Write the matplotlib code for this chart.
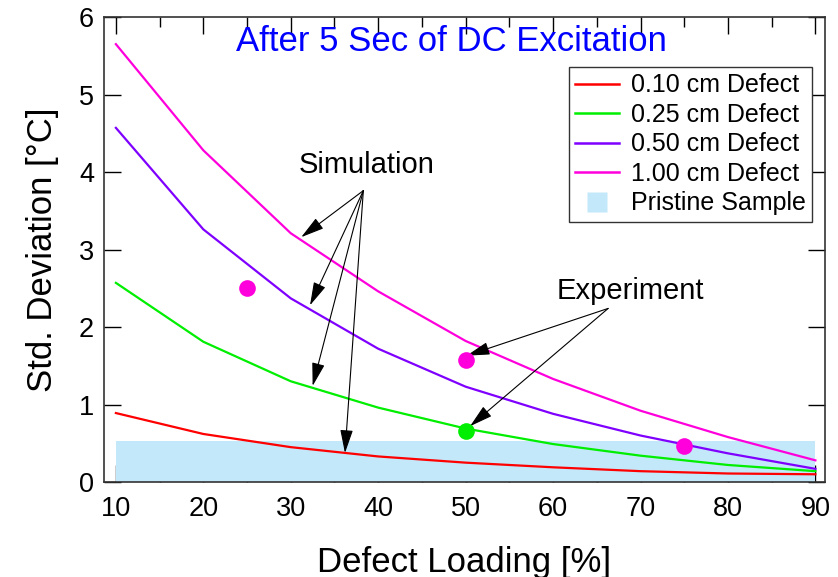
import matplotlib
matplotlib.use("Agg")
import matplotlib.pyplot as plt
from matplotlib.lines import Line2D

plt.rcParams['font.family'] = ['Liberation Sans', 'DejaVu Sans']

loading = [10, 20, 30, 40, 50, 60, 70, 80, 90]
std_010 = [0.89, 0.62, 0.45, 0.33, 0.25, 0.19, 0.14, 0.11, 0.10]
std_025 = [2.57, 1.81, 1.30, 0.96, 0.69, 0.49, 0.34, 0.22, 0.14]
std_050 = [4.57, 3.26, 2.37, 1.72, 1.23, 0.88, 0.60, 0.37, 0.17]
std_100 = [5.65, 4.28, 3.21, 2.46, 1.82, 1.33, 0.92, 0.58, 0.28]
labels = ["0.10 cm Defect", "0.25 cm Defect", "0.50 cm Defect", "1.00 cm Defect"]
colors = ["#ff0000", "#00ee00", "#7f00ff", "#ff00dd"]

pristine_level = 0.53
pristine_x = [10, 90]

exp_x_mag = [25, 50, 75]
exp_y_mag = [2.50, 1.58, 0.47]
exp_x_grn = [50]
exp_y_grn = [0.66]

band_color = "#c2e8fa"

fig = plt.figure(figsize=(8.38, 5.77), dpi=100)
ax = fig.add_axes([0.124, 0.1646, 0.8605, 0.8059])
ax.set_axisbelow(True)

ax.fill_between(pristine_x, 0, pristine_level, color=band_color, lw=0, zorder=1)
for ys, c in zip([std_010, std_025, std_050, std_100], colors):
    ax.plot(loading, ys, color=c, lw=1.6, zorder=3)

ax.plot(exp_x_mag, exp_y_mag, 'o', color="#ff00dd", ms=12, mec='none', zorder=4)
ax.plot(exp_x_grn, exp_y_grn, 'o', color="#00ee00", ms=12, mec='none', zorder=4)

ax.set_xlim(8.63, 91.1)
ax.set_ylim(0, 6)
ax.set_xticks(loading)
ax.set_xticks([15, 25, 35, 45, 55, 65, 75, 85], minor=True)
ax.set_yticks([0, 1, 2, 3, 4, 5, 6])
ax.tick_params(which='both', direction='in', top=True, right=True, labelsize=19.5,
               width=1.0, color='black')
ax.tick_params(which='major', length=12)
ax.tick_params(which='minor', length=7, right=False, left=False)
ax.tick_params(axis='x', pad=10)
ax.tick_params(axis='y', pad=7)
for s in ax.spines.values():
    s.set_color('#333333')
    s.set_linewidth(1.2)

ax.set_xlabel("Defect Loading [%]", fontsize=25, labelpad=17)
ax.set_ylabel("Std. Deviation [°C]", fontsize=25, labelpad=14)

ax.text(48.4, 5.68, "After 5 Sec of DC Excitation", color="#0000ff", fontsize=25,
        ha='center', va='center')

arrow = dict(arrowstyle='-|>,head_length=0.8,head_width=0.22', color='black',
             lw=0.8, mutation_scale=18, shrinkA=0, shrinkB=0)
ax.text(38.7, 4.09, "Simulation", fontsize=21, ha='center', va='center')
for tx, ty in [(31.2, 3.16), (32.2, 2.28), (32.5, 1.24), (36.2, 0.375)]:
    ax.annotate("", xy=(tx, ty), xytext=(38.3, 3.76), arrowprops=arrow)

ax.text(68.8, 2.47, "Experiment", fontsize=21, ha='center', va='center')
for tx, ty in [(50.1, 1.63), (50.5, 0.72)]:
    ax.annotate("", xy=(tx, ty), xytext=(66.3, 2.24), arrowprops=arrow)

handles = [Line2D([], [], color=c, lw=1.8) for c in colors]
handles.append(Line2D([], [], ls='none', marker='s', ms=15, color=band_color, mec='none'))
leg = ax.legend(handles, labels + ["Pristine Sample"], loc='upper right',
                bbox_to_anchor=(0.982, 0.8925), fontsize=18, frameon=True,
                fancybox=False, edgecolor='#333333', framealpha=1,
                borderpad=0.25, labelspacing=0.22, handlelength=1.75,
                handletextpad=0.48, borderaxespad=0)
leg.get_frame().set_linewidth(1.0)

fig.savefig("out.png", dpi=100)
